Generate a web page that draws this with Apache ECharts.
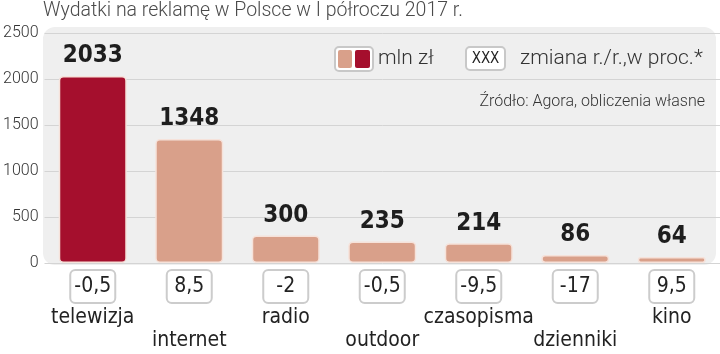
<!DOCTYPE html>
<html><head><meta charset="utf-8">
<script src="https://cdn.jsdelivr.net/npm/echarts@6/dist/echarts.min.js"></script>
<style>html,body{margin:0;padding:0;background:#fff}#c{width:720px;height:354px}</style>
</head><body><div id="c"></div>
<script>
const categories = ['telewizja','internet','radio','outdoor','czasopisma','dzienniki','kino'];
const spending = [2033, 1348, 300, 235, 214, 86, 64];
const change = ['-0,5','8,5','-2','-0,5','-9,5','-17','9,5'];
const yTicks = [0, 500, 1000, 1500, 2000, 2500];
const title = 'Wydatki na reklamę w Polsce w I półroczu 2017 r.';
const legendValue = 'mln zł';
const legendChange = 'zmiana r./r.,w proc.*';
const source = 'Źródło: Agora, obliczenia własne';

const NARROW = '"DejaVu Sans Condensed",sans-serif';
const LIGHT = 'Roboto,sans-serif';
const DARK = '#a50f2d', LIGHTC = '#d9a08a';

const chart = echarts.init(document.getElementById('c'));
chart.setOption({
  animation: false,
  backgroundColor: '#fff',
  grid: {left: 43, right: 0, top: 33, bottom: 91},
  graphic: [
    {type:'rect', z:-10, shape:{x:43,y:27,width:673,height:238,r:12}, style:{fill:'#efefef'}, silent:true},
    {type:'text', left:43, top:1, style:{text:title, font:'300 19.5px '+LIGHT, fill:'#4a4a4a'}},
    {type:'rect', shape:{x:335,y:47,width:38,height:24,r:4}, style:{fill:'#fff', stroke:'#c8c8c8', lineWidth:2}},
    {type:'rect', shape:{x:338,y:50,width:14,height:18,r:2}, style:{fill:LIGHTC}},
    {type:'rect', shape:{x:355,y:50,width:15,height:18,r:2}, style:{fill:DARK}},
    {type:'text', left:378, top:48, style:{text:legendValue, font:'300 21px '+LIGHT, fill:'#333'}},
    {type:'rect', shape:{x:466,y:47,width:39,height:23,r:4}, style:{fill:'#fff', stroke:'#c8c8c8', lineWidth:2}},
    {type:'text', x:485.5, y:59, style:{text:'XXX', font:'15px '+NARROW, fill:'#222', align:'center', verticalAlign:'middle'}},
    {type:'text', left:520, top:48, style:{text:legendChange, font:'300 21px '+LIGHT, fill:'#333'}},
    {type:'text', right:15, top:94, style:{text:source, font:'300 16px '+LIGHT, fill:'#333'}}
  ],
  xAxis: {
    type:'category', data: categories,
    axisLine:{show:false}, axisTick:{show:false},
    axisLabel:{
      interval:0, margin:8,
      formatter:(v,i)=> i%2===0 ? '{box|'+change[i]+'}\n{cat|'+v+'}' : '{box|'+change[i]+'}\n{cat2|'+v+'}',
      rich:{
        box:{width:43, height:31, align:'center', verticalAlign:'middle', backgroundColor:'#fff', borderColor:'#cccccc', borderWidth:2, borderRadius:4, fontFamily:NARROW, fontSize:21, color:'#222'},
        cat:{fontFamily:NARROW, fontSize:21, color:'#222', lineHeight:24, padding:[7,0,0,0]},
        cat2:{fontFamily:NARROW, fontSize:21, color:'#222', lineHeight:24, padding:[54,0,0,0]}
      }
    }
  },
  yAxis: {
    type:'value', min:0, max:2500, interval:500,
    axisLine:{show:false}, axisTick:{show:false},
    axisLabel:{margin:6, fontFamily:'Roboto,sans-serif', fontWeight:300, fontSize:16, color:'#333', formatter:v=> yTicks.includes(v)? String(v):''},
    splitLine:{lineStyle:{color:'#d4d4d4', width:1}}
  },
  series: [{
    type:'bar', barWidth:68,
    data: spending.map((v,i)=>({value:v, itemStyle:{color: i===0?DARK:LIGHTC}})),
    itemStyle:{borderColor:'#f6e2da', borderWidth:1.5, borderRadius:4},
    label:{show:true, position:'top', distance:8, fontFamily:NARROW, fontWeight:'bold', fontSize:24, color:'#1e1e1e'}
  }]
});
</script></body></html>
